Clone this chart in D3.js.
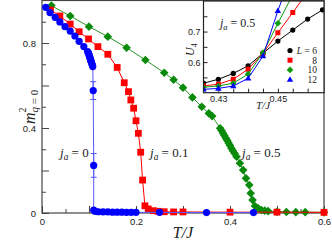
<!DOCTYPE html>
<html><head><meta charset="utf-8">
<script src="https://cdn.jsdelivr.net/npm/d3@7"></script>
<style>body{margin:0;background:#fff}svg{display:block}</style>
</head><body><svg id="c" width="332" height="243"></svg>
<script>
// ---- main panel data (T/J vs m^2_{q=0}) ----
const blueT = [0.008,0.017,0.028,0.038,0.049,0.060,0.070,0.079,0.089,0.097,0.099,0.100,0.101,0.102,0.103,0.104,0.105,0.106,0.107,0.108,0.109,0.110,0.110,0.113,0.120,0.130,0.140,0.150,0.160,0.170,0.180,0.190,0.200,0.250,0.350,0.450];
const blueM = [0.968,0.943,0.921,0.899,0.877,0.856,0.833,0.808,0.783,0.760,0.752,0.745,0.738,0.731,0.724,0.717,0.710,0.703,0.696,0.689,0.576,0.224,0.014,0.008,0.006,0.005,0.005,0.004,0.004,0.004,0.003,0.003,0.003,0.003,0.002,0.002];
const blueErr = [0,0,0,0,0,0,0,0,0,0,0,0,0,0,0,0,0,0,0,0,0.042,0.056,0,0,0,0,0,0,0,0,0,0,0,0,0,0];
const redT = [0.018,0.038,0.060,0.079,0.099,0.119,0.140,0.160,0.175,0.184,0.189,0.195,0.200,0.205,0.210,0.214,0.219,0.226,0.237,0.247,0.260,0.280,0.300,0.400,0.500,0.600];
const redM = [0.955,0.927,0.889,0.853,0.819,0.783,0.747,0.685,0.613,0.571,0.532,0.493,0.434,0.375,0.286,0.155,0.034,0.019,0.011,0.008,0.006,0.005,0.005,0.004,0.004,0.003];
const greenT = [0.020,0.060,0.100,0.140,0.180,0.220,0.260,0.280,0.300,0.320,0.340,0.355,0.362,0.379,0.382,0.385,0.388,0.391,0.394,0.397,0.400,0.403,0.406,0.410,0.414,0.421,0.428,0.434,0.441,0.444,0.448,0.453,0.460,0.467,0.474,0.481,0.500,0.520,0.540,0.560,0.600];
const greenM = [0.976,0.927,0.877,0.830,0.778,0.720,0.660,0.627,0.590,0.544,0.500,0.469,0.456,0.399,0.388,0.376,0.365,0.353,0.342,0.330,0.318,0.305,0.293,0.280,0.265,0.234,0.202,0.163,0.132,0.093,0.061,0.033,0.022,0.014,0.011,0.009,0.006,0.005,0.004,0.004,0.003];
const xTickLabels = ["0","0.2","0.4","0.6"];
const yTickLabels = ["0","0.4","0.8"];

// ---- inset data (T/J vs U4) ----
const insetT = [0.425,0.430,0.435,0.440,0.445,0.450,0.455,0.460,0.465];
const u4L6  = [0.531,0.544,0.563,0.588,0.629,0.669,0.705,0.741,0.771];
const u4L8  = [0.522,0.528,0.544,0.577,0.629,0.696,0.762,0.830];
const u4L10 = [0.518,0.522,0.531,0.561,0.631,0.727,0.820];
const u4L12 = [0.511,0.514,0.522,0.547,0.620,0.768,0.900];
const legendLabels = ["6","8","10","12"];
const insetXTickLabels = ["0.43","0.45"];
const insetYTickLabels = ["0.6","0.7"];

const svg = d3.select("#c");
const axisCol = "#444", txtCol = "#222";
const sans = "'Liberation Sans', Arial, sans-serif";
const serif = "'Liberation Serif', 'Times New Roman', serif";

const x = d3.scaleLinear().domain([0,0.6]).range([42,324]);
const y = d3.scaleLinear().domain([0,1]).range([213,0.5]);

function styleAxis(g){
  g.select(".domain").remove();
  g.selectAll(".tick line").attr("stroke",axisCol);
  g.selectAll(".tick text").attr("fill",txtCol).attr("font-family",sans).attr("font-size","9.5px");
}
// main axes
const fmtX = d => { const i=[0,0.2,0.4,0.6].findIndex(v=>Math.abs(v-d)<1e-9); return i>=0?xTickLabels[i]:""; };
const fmtY = d => { const i=[0,0.4,0.8].findIndex(v=>Math.abs(v-d)<1e-9); return i>=0?yTickLabels[i]:""; };
svg.append("g").attr("transform","translate(0,213)")
  .call(d3.axisBottom(x).tickValues(d3.range(0.05,0.6,0.1)).tickSize(-4).tickFormat(""))
  .call(styleAxis);
svg.append("g").attr("transform","translate(0,213)")
  .call(d3.axisBottom(x).tickValues(d3.range(0,0.61,0.1)).tickSize(-7).tickPadding(5).tickFormat(fmtX))
  .call(styleAxis);
svg.append("g").attr("transform","translate(42,0)")
  .call(d3.axisLeft(y).tickValues([0.1,0.3,0.5,0.7,0.9]).tickSize(-4).tickFormat(""))
  .call(styleAxis);
svg.append("g").attr("transform","translate(42,0)")
  .call(d3.axisLeft(y).tickValues([0,0.2,0.4,0.6,0.8]).tickSize(-7).tickPadding(6).tickFormat(fmtY))
  .call(styleAxis);
svg.append("rect").attr("x",x(0)).attr("y",y(1)).attr("width",x(0.6)-x(0)).attr("height",y(0)-y(1))
  .attr("fill","none").attr("stroke",axisCol).attr("stroke-width",1.2);

const diamond = r => `M0,${-r}L${r},0L0,${r}L${-r},0Z`;
function series(g, xs, ys, T, M, color, shape, size, lw, lineColor){
  const pts = T.map((t,i)=>[t,M[i]]);
  g.append("path").datum(pts).attr("fill","none").attr("stroke",lineColor||color).attr("stroke-width",lw)
    .attr("d", d3.line().x(d=>xs(d[0])).y(d=>ys(d[1])));
  const sel = g.append("g").selectAll("path").data(pts).join("path")
    .attr("transform",d=>`translate(${xs(d[0])},${ys(d[1])})`).attr("fill",color);
  if(shape==="circle") sel.attr("d", d3.symbol(d3.symbolCircle, Math.PI*size*size)());
  else if(shape==="square") sel.attr("d", d3.symbol(d3.symbolSquare, size*size)());
  else if(shape==="diamond") sel.attr("d", diamond(size));
  else if(shape==="triangle") sel.attr("d", `M0,${-size}L${size*0.95},${size*0.65}L${-size*0.95},${size*0.65}Z`);
}
const main = svg.append("g");
// error bars (blue)
blueT.forEach((t,i)=>{
  if(blueErr[i]>0){
    const g = main.append("g").attr("stroke","#5050ff").attr("stroke-width",1);
    g.append("line").attr("x1",x(t)).attr("x2",x(t)).attr("y1",y(blueM[i]-blueErr[i])).attr("y2",y(blueM[i]+blueErr[i]));
    [blueM[i]-blueErr[i], blueM[i]+blueErr[i]].forEach(v=>
      g.append("line").attr("x1",x(t)-3).attr("x2",x(t)+3).attr("y1",y(v)).attr("y2",y(v)));
  }
});
series(main, x, y, greenT, greenM, "#0a8a0a", "diamond", 4.3, 0.9);
series(main, x, y, redT, redM, "#ff0000", "square", 6.8, 1);
series(main, x, y, blueT, blueM, "#0000ff", "circle", 3.6, 1, "#5a5aff");

// axis titles
svg.append("text").attr("x",183).attr("y",238).attr("text-anchor","middle")
  .attr("font-family",serif).attr("font-style","italic").attr("font-size","16px").attr("fill",txtCol).text("T/J");
const yl = svg.append("text").attr("transform","translate(35,124) rotate(-90)")
  .attr("font-family",serif).attr("font-size","16px").attr("fill",txtCol);
yl.append("tspan").attr("font-style","italic").text("m");
yl.append("tspan").attr("font-size","10px").attr("dy",-9).text("2");
yl.append("tspan").attr("font-size","11px").attr("dx",-5).attr("dy",12).attr("font-style","italic").text("q");
yl.append("tspan").attr("font-size","11px").text(" = 0");

// annotations
function annot(xp, yp, val, fs){
  const t = svg.append("text").attr("x",xp).attr("y",yp).attr("font-family",serif).attr("font-size",fs+"px").attr("fill",txtCol);
  t.append("tspan").attr("font-style","italic").text("j");
  t.append("tspan").attr("font-style","italic").attr("font-size",(fs*0.72)+"px").attr("dy",fs*0.22).text("a");
  t.append("tspan").attr("dy",-fs*0.22).text(" = "+val);
}
annot(60,157,"0",13);
annot(150,157,"0.1",13);
annot(242,157,"0.5",13);

// ---- inset ----
const ix = d3.scaleLinear().domain([0.425,0.4655]).range([203.5,324]);
const iy = d3.scaleLinear().domain([0.5,0.8]).range([92.7,1]);
svg.append("rect").attr("x",ix.range()[0]).attr("y",1).attr("width",ix.range()[1]-ix.range()[0]).attr("height",91.7).attr("fill","#fff");
svg.append("clipPath").attr("id","ic").append("rect").attr("x",ix.range()[0]).attr("y",1).attr("width",ix.range()[1]-ix.range()[0]).attr("height",91.7);
function styleInset(g){
  g.select(".domain").remove();
  g.selectAll(".tick line").attr("stroke","#222");
  g.selectAll(".tick text").attr("fill",txtCol).attr("font-family",sans).attr("font-size","9px");
}
const fmtIX = d => { const i=[0.43,0.45].findIndex(v=>Math.abs(v-d)<1e-9); return i>=0?insetXTickLabels[i]:""; };
const fmtIY = d => { const i=[0.6,0.7].findIndex(v=>Math.abs(v-d)<1e-9); return i>=0?insetYTickLabels[i]:""; };
svg.append("g").attr("transform","translate(0,92.7)")
  .call(d3.axisBottom(ix).tickValues([0.43,0.435,0.44,0.445,0.45,0.455,0.46]).tickSize(-4).tickPadding(3).tickFormat(fmtIX))
  .call(styleInset);
svg.append("g").attr("transform","translate(203.5,0)")
  .call(d3.axisLeft(iy).tickValues([0.55,0.6,0.65,0.7,0.75]).tickSize(-4).tickPadding(3).tickFormat(fmtIY))
  .call(styleInset);
const ins = svg.append("g").attr("clip-path","url(#ic)");
series(ins, ix, iy, insetT.slice(0,u4L6.length), u4L6, "#000", "circle", 2.6, 1);
series(ins, ix, iy, insetT.slice(0,u4L8.length), u4L8, "#ff0000", "square", 5, 1);
series(ins, ix, iy, insetT.slice(0,u4L10.length), u4L10, "#0a9a0a", "diamond", 3.3, 1);
series(ins, ix, iy, insetT.slice(0,u4L12.length), u4L12, "#0000ff", "triangle", 3.4, 1);
svg.append("rect").attr("x",ix.range()[0]).attr("y",1).attr("width",ix.range()[1]-ix.range()[0]).attr("height",91.7)
  .attr("fill","none").attr("stroke","#222").attr("stroke-width",1.2);

// inset labels
svg.append("text").attr("x",263).attr("y",109).attr("text-anchor","middle")
  .attr("font-family",serif).attr("font-style","italic").attr("font-size","11px").attr("fill",txtCol).text("T/J");
const ul = svg.append("text").attr("transform","translate(194,56) rotate(-90)")
  .attr("font-family",serif).attr("font-size","12px").attr("fill",txtCol);
ul.append("tspan").attr("font-style","italic").text("U");
ul.append("tspan").attr("font-size","8px").attr("dy",3).text("4");
const ia = svg.append("text").attr("x",220).attr("y",27).attr("font-family",serif).attr("font-size","12px").attr("fill",txtCol);
ia.append("tspan").attr("font-style","italic").text("j");
ia.append("tspan").attr("font-style","italic").attr("font-size","8.5px").attr("dy",2.6).text("a");
ia.append("tspan").attr("dy",-2.6).text(" = 0.5");

// legend
const legCols = ["#000","#ff0000","#0a9a0a","#0000ff"];
const legShapes = ["circle","square","diamond","triangle"];
const legY = [50.5,60.2,69.9,79.6];
legendLabels.forEach((lab,i)=>{
  const g = svg.append("g");
  const p = g.append("path").attr("transform",`translate(290,${legY[i]})`).attr("fill",legCols[i]);
  if(legShapes[i]==="circle") p.attr("d", d3.symbol(d3.symbolCircle, Math.PI*2.6*2.6)());
  else if(legShapes[i]==="square") p.attr("d", d3.symbol(d3.symbolSquare, 25)());
  else if(legShapes[i]==="diamond") p.attr("d", diamond(3.3));
  else p.attr("d", "M0,-3.4L3.2,2.2L-3.2,2.2Z");
  const t = g.append("text").attr("x",317).attr("y",legY[i]+3.3).attr("text-anchor","end")
    .attr("font-family",serif).attr("font-size","9.5px").attr("fill",txtCol);
  if(i===0){ t.append("tspan").attr("font-style","italic").text("L"); t.append("tspan").text(" = "+lab); }
  else t.text(lab);
});
</script></body></html>
